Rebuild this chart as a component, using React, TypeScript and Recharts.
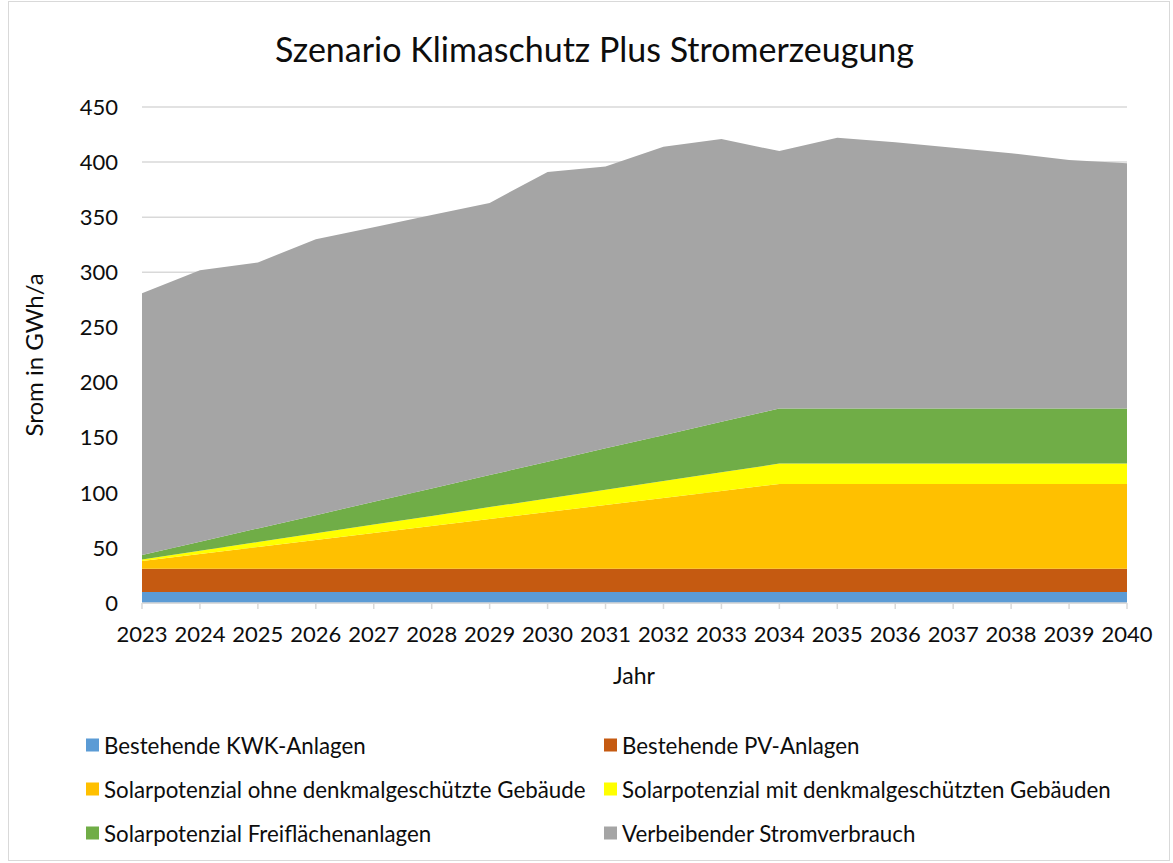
import { AreaChart, Area, XAxis, YAxis, CartesianGrid } from "recharts";

const years = [
  "2023", "2024", "2025", "2026", "2027", "2028", "2029", "2030", "2031",
  "2032", "2033", "2034", "2035", "2036", "2037", "2038", "2039", "2040",
];

const kwk = [10, 10, 10, 10, 10, 10, 10, 10, 10, 10, 10, 10, 10, 10, 10, 10, 10, 10];
const pvBestand = [21, 21, 21, 21, 21, 21, 21, 21, 21, 21, 21, 21, 21, 21, 21, 21, 21, 21];
const solarOhne = [7, 13.4, 19.7, 26.1, 32.5, 38.8, 45.2, 51.5, 57.9, 64.3, 70.6, 77, 77, 77, 77, 77, 77, 77];
const solarMit = [1.5, 3, 4.6, 6.1, 7.7, 9.2, 10.8, 12.3, 13.9, 15.4, 17, 18.5, 18.5, 18.5, 18.5, 18.5, 18.5, 18.5];
const freiflaeche = [4, 8.2, 12.4, 16.5, 20.7, 24.9, 29.1, 33.3, 37.5, 41.6, 45.8, 50, 50, 50, 50, 50, 50, 50];
const restverbrauch = [
  237.5, 246.4, 241.3, 250.3, 249.1, 248.1, 246.9, 262.9, 255.7,
  261.7, 256.6, 233.5, 245.5, 241.5, 236.5, 231.5, 225.5, 222.5,
];

const yTicks = [0, 50, 100, 150, 200, 250, 300, 350, 400, 450];

const series = [
  { key: "kwk", name: "Bestehende KWK-Anlagen", color: "#5b9bd5" },
  { key: "pv", name: "Bestehende PV-Anlagen", color: "#c55a11" },
  { key: "ohne", name: "Solarpotenzial ohne denkmalgeschützte Gebäude", color: "#ffc000" },
  { key: "mit", name: "Solarpotenzial mit denkmalgeschützten Gebäuden", color: "#ffff00" },
  { key: "frei", name: "Solarpotenzial Freiflächenanlagen", color: "#70ad47" },
  { key: "rest", name: "Verbeibender Stromverbrauch", color: "#a5a5a5" },
];

const data = years.map((year, i) => ({
  year,
  kwk: kwk[i],
  pv: pvBestand[i],
  ohne: solarOhne[i],
  mit: solarMit[i],
  frei: freiflaeche[i],
  rest: restverbrauch[i],
}));

const FONT = "Lato, Carlito, Calibri, sans-serif";
const TEXT = "#0d0d0d";

export default function App() {
  return (
    <div
      style={{
        position: "absolute",
        left: 0,
        top: 0,
        width: 1173,
        height: 863,
        background: "#fff",
        fontFamily: FONT,
        color: TEXT,
      }}
    >
      {/* frame */}
      <div
        style={{
          position: "absolute",
          left: 8,
          top: 1,
          width: 1162,
          height: 860,
          border: "1px solid #d9d9d9",
          boxSizing: "border-box",
        }}
      />

      <div
        style={{
          position: "absolute",
          left: 0,
          width: 1173,
          top: 28,
          textAlign: "center",
          paddingLeft: 16,
          boxSizing: "border-box",
          fontSize: 34,
        }}
      >
        Szenario Klimaschutz Plus Stromerzeugung
      </div>

      <div style={{ position: "absolute", left: 0, top: 0 }}>
        <AreaChart
          width={1173}
          height={863}
          data={data}
          margin={{ top: 107, right: 46, left: 0, bottom: 220 }}
        >
          <CartesianGrid vertical={false} stroke="#d9d9d9" strokeWidth={1.5} />
          <XAxis
            dataKey="year"
            interval={0}
            height={40}
            stroke="#d9d9d9"
            strokeWidth={1.5}
            tickSize={6}
            tickMargin={17}
            tick={{ fontSize: 22, fill: TEXT, fontFamily: FONT }}
          />
          <YAxis
            width={142}
            domain={[0, 450]}
            ticks={yTicks}
            axisLine={false}
            tickLine={false}
            tickSize={0}
            tickMargin={24}
            tick={{ fontSize: 22, fill: TEXT, fontFamily: FONT }}
          />
          {series.map((s) => (
            <Area
              key={s.key}
              type="linear"
              dataKey={s.key}
              name={s.name}
              stackId="1"
              stroke="none"
              fill={s.color}
              fillOpacity={1}
              isAnimationActive={false}
            />
          ))}
        </AreaChart>
      </div>

      {/* axis titles */}
      <div
        style={{
          position: "absolute",
          left: 33,
          top: 355,
          fontSize: 24,
          whiteSpace: "nowrap",
          transform: "translate(-50%, -50%) rotate(-90deg)",
        }}
      >
        Srom in GWh/a
      </div>
      <div
        style={{
          position: "absolute",
          left: 634,
          top: 675,
          fontSize: 23,
          transform: "translate(-50%, -50%)",
        }}
      >
        Jahr
      </div>

      {/* legend */}
      {series.map((s, i) => {
        const col = i % 2;
        const row = Math.floor(i / 2);
        return (
          <div
            key={s.key}
            style={{
              position: "absolute",
              left: col === 0 ? 86 : 604,
              top: 745 + row * 44,
              transform: "translateY(-50%)",
              display: "flex",
              alignItems: "center",
              fontSize: 22.3,
              whiteSpace: "nowrap",
            }}
          >
            <span
              style={{
                display: "inline-block",
                width: 13,
                height: 13,
                background: s.color,
                marginRight: 5,
              }}
            />
            {s.name}
          </div>
        );
      })}
    </div>
  );
}
